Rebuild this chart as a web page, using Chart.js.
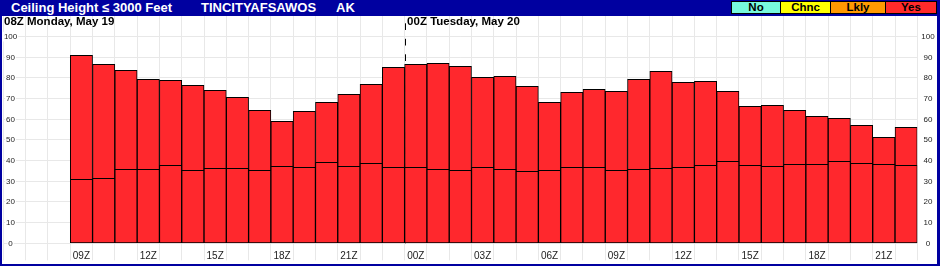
<!DOCTYPE html>
<html>
<head>
<meta charset="utf-8">
<script src="https://cdn.jsdelivr.net/npm/chart.js@4/dist/chart.umd.min.js"></script>
<style>
html,body{margin:0;padding:0;background:#0000a0;}
#frame{position:relative;width:940px;height:266px;background:#0000a0;overflow:hidden;font-family:"Liberation Sans",Arial,sans-serif;}
#plot{position:absolute;left:2px;top:16px;width:935px;height:248px;background:#fff;}
#plot canvas{display:block;}
.t{position:absolute;top:0;line-height:15px;font-size:13px;font-weight:bold;color:#fff;white-space:nowrap;}
.lg{position:absolute;top:1px;height:13px;box-sizing:border-box;border:1px solid #000;font-size:11.5px;font-weight:bold;line-height:11px;text-align:center;color:#000;}
</style>
</head>
<body>
<div id="frame">
  <span class="t" style="left:11px">Ceiling Height ≤ 3000 Feet</span>
  <span class="t" style="left:201px">TINCITYAFSAWOS</span>
  <span class="t" style="left:336px">AK</span>
  <div class="lg" style="left:731px;width:50px;background:#77f9dd">No</div>
  <div class="lg" style="left:780px;width:51px;background:#ffff00">Chnc</div>
  <div class="lg" style="left:830px;width:56px;background:#ff9900">Lkly</div>
  <div class="lg" style="left:885px;width:52px;background:#ff2a2a">Yes</div>
  <div id="plot"><canvas id="c" width="935" height="248"></canvas></div>
</div>
<script>
// hourly categories (3 empty leading slots, then 09Z Mon .. 22Z Tue)
const categories = ['06Z','07Z','08Z',
  '09Z','10Z','11Z','12Z','13Z','14Z','15Z','16Z','17Z','18Z','19Z','20Z','21Z','22Z','23Z',
  '00Z','01Z','02Z','03Z','04Z','05Z','06Z','07Z','08Z','09Z','10Z','11Z','12Z','13Z','14Z',
  '15Z','16Z','17Z','18Z','19Z','20Z','21Z','22Z'];
const tickLabels = ['','','',
  '09Z','','','12Z','','','15Z','','','18Z','','','21Z','','',
  '00Z','','','03Z','','','06Z','','','09Z','','','12Z','','',
  '15Z','','','18Z','','','21Z',''];
// total height of each bar (%)
const totalPct = [null,null,null,
  91.0,86.6,83.7,79.4,78.9,76.5,74.0,70.6,64.4,59.0,63.9,68.2,72.1,76.9,85.2,
  86.6,87.1,85.6,80.3,80.8,76.0,68.2,73.1,74.5,73.5,79.4,83.2,77.9,78.4,73.5,
  66.3,66.8,64.4,61.5,60.5,57.1,51.3,56.1];
// lower segment of each bar (%)
const lowerPct = [null,null,null,
  31.0,31.4,35.8,35.8,37.7,35.3,36.3,36.3,35.3,37.3,36.8,39.2,37.3,38.7,36.8,
  36.8,35.8,35.3,36.8,35.8,34.8,35.3,36.8,36.8,35.3,35.8,36.3,36.8,37.7,39.7,
  37.7,37.3,38.2,38.2,39.7,38.7,38.2,37.7];
const yTicks = [0,10,20,30,40,50,60,70,80,90,100];
const dayLabels = ['08Z Monday, May 19','00Z Tuesday, May 20'];
const dayBreakIndex = [null, 18]; // category index where a new day begins

const RED = '#ff282d';
const GRID = '#e8e8e8';
const FONT = '"Liberation Sans", Arial, sans-serif';

const dayMarks = {
  id: 'dayMarks',
  beforeDatasetsDraw(chart) {
    const {ctx, chartArea: a, scales: {x}} = chart;
    const half = (x.getPixelForValue(1) - x.getPixelForValue(0)) / 2;
    ctx.save();
    ctx.strokeStyle = '#000';
    ctx.lineWidth = 1;
    ctx.setLineDash([6.7, 8.8]);
    dayBreakIndex.forEach(i => {
      if (i === null) return;
      const px = Math.round(x.getPixelForValue(i) - half) + 0.5;
      ctx.beginPath();
      ctx.moveTo(px, a.top + 7.3);
      ctx.lineTo(px, a.bottom);
      ctx.stroke();
    });
    ctx.restore();
  },
  afterDraw(chart) {
    const {ctx, chartArea: a, scales: {x}} = chart;
    const half = (x.getPixelForValue(1) - x.getPixelForValue(0)) / 2;
    ctx.save();
    ctx.font = 'bold 11.5px ' + FONT;
    ctx.fillStyle = '#000';
    ctx.textBaseline = 'alphabetic';
    dayLabels.forEach((t, k) => {
      const i = dayBreakIndex[k];
      const px = i === null ? a.left + 0.6 : x.getPixelForValue(i) - half + 2.5;
      ctx.fillText(t, px, a.top + 9);
    });
    ctx.restore();
  }
};

Chart.defaults.font.family = FONT;

new Chart(document.getElementById('c'), {
  type: 'bar',
  data: {
    labels: categories,
    datasets: [
      { data: lowerPct, backgroundColor: RED, borderColor: '#000', borderWidth: 1, borderSkipped: false,
        barPercentage: 1, categoryPercentage: 1, grouped: false },
      { data: totalPct, backgroundColor: RED, borderColor: '#000', borderWidth: 1, borderSkipped: false,
        barPercentage: 1, categoryPercentage: 1, grouped: false }
    ]
  },
  options: {
    responsive: false,
    maintainAspectRatio: false,
    devicePixelRatio: 1,
    animation: false,
    events: [],
    layout: { padding: { left: 1.4, right: 0, top: 0, bottom: 0 } },
    plugins: { legend: { display: false }, tooltip: { enabled: false } },
    scales: {
      x: {
        offset: true,
        grid: { offset: true, color: GRID, lineWidth: 1, drawTicks: true, tickLength: 17, tickColor: GRID },
        border: { display: false },
        ticks: {
          autoSkip: false, maxRotation: 0, minRotation: 0, padding: -9.6,
          color: '#222', font: { size: 10 },
          callback: (v, i) => tickLabels[i]
        },
        afterFit: s => { s.height = 20.7; s.paddingLeft = 0; s.paddingRight = 0; }
      },
      y: {
        position: 'left', min: 0, max: 110,
        afterBuildTicks: s => { s.ticks = yTicks.map(v => ({ value: v })); },
        grid: { color: GRID, lineWidth: 1, drawTicks: false },
        border: { display: false },
        ticks: {
          mirror: true, crossAlign: 'center', padding: 0.5, color: '#222', font: { size: 8 },
          showLabelBackdrop: true, backdropColor: '#fff', backdropPadding: { left: 1, right: 1, top: 0, bottom: 0 }
        },
        afterFit: s => { s.width = 0; s.paddingTop = 0; s.paddingBottom = 0; }
      },
      y2: {
        position: 'right', min: 0, max: 110,
        afterBuildTicks: s => { s.ticks = yTicks.map(v => ({ value: v })); },
        grid: { display: false, drawTicks: false },
        border: { display: false },
        ticks: { crossAlign: 'center', padding: 4, color: '#222', font: { size: 8 } },
        afterFit: s => { s.width = 19.7; s.paddingTop = 0; s.paddingBottom = 0; }
      }
    }
  },
  plugins: [dayMarks]
});
</script>
</body>
</html>
